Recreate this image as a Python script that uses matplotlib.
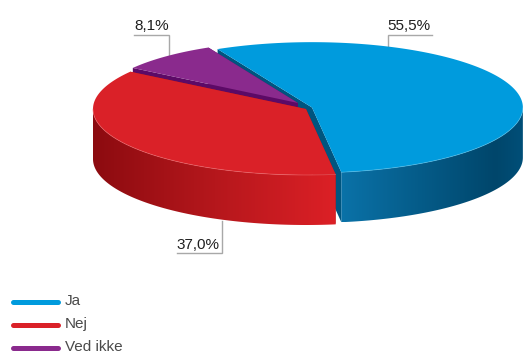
import numpy as np
import matplotlib
matplotlib.use("Agg")
import matplotlib.pyplot as plt
from matplotlib.colors import LinearSegmentedColormap
from matplotlib.patches import Polygon

plt.rcParams['font.family'] = ['Liberation Sans', 'DejaVu Sans']

# data
categories = ['Ja', 'Nej', 'Ved ikke']
values = [55.5, 37.0, 8.1]
value_labels = ['55,5%', '37,0%', '8,1%']

top_colors = ['#009bdd', '#da2128', '#8a2a8d']
side_colors = ['#00557f', '#a5141a', '#5c0a66']
rim_colors = ['#5cc3ec', '#ee6a6e', '#8a2a8d']
wall_gradients = [[(0, '#0a72a8'), (0.85, '#00466b'), (1, '#004f78')],
                  [(0, '#8c0b10'), (0.5, '#b5171c'), (1, '#dc2026')],
                  [(0, '#5c0a66'), (1, '#5c0a66')]]

# pie geometry, in pixels
apexes = [(312, 107.5), (306, 109), (298, 103)]
scales = [0.99, 1.0, 0.94]
rx, ry = 213, 66
depth = 50
start_angle = 116.6


def rim(apex, scale, a0, a1, n=200):
    t = np.radians(np.linspace(a0, a1, n))
    return np.column_stack([apex[0] + scale * rx * np.cos(t),
                            apex[1] - scale * ry * np.sin(t)])


fig = plt.figure(figsize=(5.23, 3.53), dpi=100)
ax = fig.add_axes([0, 0, 1, 1])
ax.axis('off')

# sweep clockwise from the start angle
sweeps = np.array(values) / sum(values) * 360
ends = start_angle - np.cumsum(sweeps)
starts = ends + sweeps

# back to front: blue, purple, red
for i in [0, 2, 1]:
    apex = np.array(apexes[i], dtype=float)
    a0, a1 = starts[i], ends[i]
    edge = rim(apex, scales[i], a0, a1)
    down = np.array([0, depth])

    # cut faces going down from the two straight edges
    for corner in [edge[0], edge[-1]]:
        face = [apex, corner, corner + down, apex + down]
        ax.add_patch(Polygon(face, closed=True, fc=side_colors[i], ec='none', zorder=2))

    # outer wall, only the part facing the viewer
    t = np.radians(np.linspace(a0, a1, 400))
    front = rim(apex, scales[i], a0, a1, 400)[np.sin(t) <= 0]
    if len(front) > 1:
        wall = np.vstack([front, (front + down)[::-1]])
        clip = Polygon(wall, closed=True, fc='none', ec='none', transform=ax.transData)
        ax.add_patch(clip)
        cmap = LinearSegmentedColormap.from_list('wall', wall_gradients[i])
        x0, x1 = front[:, 0].min(), front[:, 0].max()
        y0, y1 = wall[:, 1].min(), wall[:, 1].max()
        im = ax.imshow(np.linspace(0, 1, 256).reshape(1, -1), cmap=cmap, aspect='auto',
                       extent=[x0, x1, y1, y0], zorder=2, interpolation='bilinear')
        im.set_clip_path(clip)

    # top surface
    top = np.vstack([apex, edge])
    ax.add_patch(Polygon(top, closed=True, fc=top_colors[i], ec='none', zorder=2))

    # faint highlight where the top meets the wall
    if len(front) > 1:
        ax.plot(front[:, 0], front[:, 1], color=rim_colors[i], lw=0.6, alpha=0.6, zorder=2)

ax.set_xlim(0, 523)
ax.set_ylim(353, 0)

# leader lines and percentages
leaders = [[(388, 47), (388, 35), (432, 35)],
           [(222, 221), (222, 253), (177, 253)],
           [(169, 55), (169, 35), (134, 35)]]
label_pos = [(387, 30), (176, 249), (134, 30)]
for pts, pos, txt in zip(leaders, label_pos, value_labels):
    xs, ys = zip(*pts)
    ax.plot(xs, ys, color='#a8a8a8', lw=1, zorder=1, solid_joinstyle='miter')
    ax.text(pos[0], pos[1], txt, fontsize=11, color='#1f1f1f', ha='left', va='baseline')

# legend
legend_y = [301.5, 324.5, 347.5]
for y, name, col in zip(legend_y, categories, top_colors):
    ax.plot([13, 58], [y, y], color=col, lw=3.6, solid_capstyle='round')
    ax.text(65, y + 3.5, name, fontsize=11, color='#4a4a4a', ha='left', va='baseline')

fig.savefig('out.png', dpi=100)
